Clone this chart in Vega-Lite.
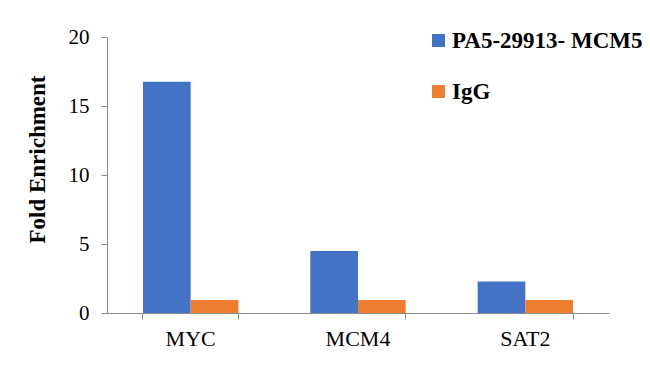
{
  "$schema": "https://vega.github.io/schema/vega-lite/v6.json",
  "width": 502,
  "height": 276,
  "autosize": {"type": "none"},
  "padding": {"left": 107, "top": 37, "right": 41, "bottom": 65},
  "background": "white",
  "data": {
    "values": [
      {"gene": "MYC", "series": "PA5-29913- MCM5", "value": 16.75},
      {"gene": "MYC", "series": "IgG", "value": 0.95},
      {"gene": "MCM4", "series": "PA5-29913- MCM5", "value": 4.5},
      {"gene": "MCM4", "series": "IgG", "value": 0.95},
      {"gene": "SAT2", "series": "PA5-29913- MCM5", "value": 2.28},
      {"gene": "SAT2", "series": "IgG", "value": 0.95}
    ]
  },
  "mark": {"type": "bar"},
  "encoding": {
    "x": {
      "field": "gene",
      "type": "nominal",
      "sort": ["MYC", "MCM4", "SAT2"],
      "scale": {"paddingInner": 0.43, "paddingOuter": 0.215},
      "axis": {
        "title": null,
        "labelAngle": 0,
        "bandPosition": 1,
        "tickExtra": true,
        "tickSize": 6,
        "labelPadding": 9,
        "labelFontSize": 22,
        "labelColor": "#000000",
        "domainColor": "#8c8c8c",
        "tickColor": "#8c8c8c"
      }
    },
    "xOffset": {"field": "series", "type": "nominal", "sort": ["PA5-29913- MCM5", "IgG"]},
    "y": {
      "field": "value",
      "type": "quantitative",
      "scale": {"domain": [0, 20]},
      "axis": {
        "values": [0, 5, 10, 15, 20],
        "grid": false,
        "title": "Fold Enrichment",
        "titleFontSize": 23,
        "titleFontWeight": "bold",
        "titleColor": "#000000",
        "titlePadding": 19,
        "titleY": 122,
        "titleAlign": "center",
        "tickSize": 6,
        "labelPadding": 12,
        "labelFontSize": 21,
        "labelColor": "#000000",
        "domainColor": "#8c8c8c",
        "tickColor": "#8c8c8c"
      }
    },
    "color": {
      "field": "series",
      "type": "nominal",
      "sort": ["PA5-29913- MCM5", "IgG"],
      "scale": {"domain": ["PA5-29913- MCM5", "IgG"], "range": ["#4472C4", "#ED7D31"]},
      "legend": {
        "title": null,
        "orient": "none",
        "legendX": 320,
        "legendY": -8,
        "symbolType": "square",
        "symbolSize": 170,
        "symbolStrokeWidth": 0,
        "symbolOpacity": 1,
        "labelFontSize": 23,
        "labelFontWeight": "bold",
        "labelColor": "#000000",
        "labelLimit": 300,
        "labelOffset": 2,
        "rowPadding": 27
      }
    }
  },
  "config": {
    "view": {"stroke": null},
    "font": "Liberation Serif",
    "axis": {"labelFont": "Liberation Serif", "titleFont": "Liberation Serif"},
    "legend": {"labelFont": "Liberation Serif"}
  }
}
